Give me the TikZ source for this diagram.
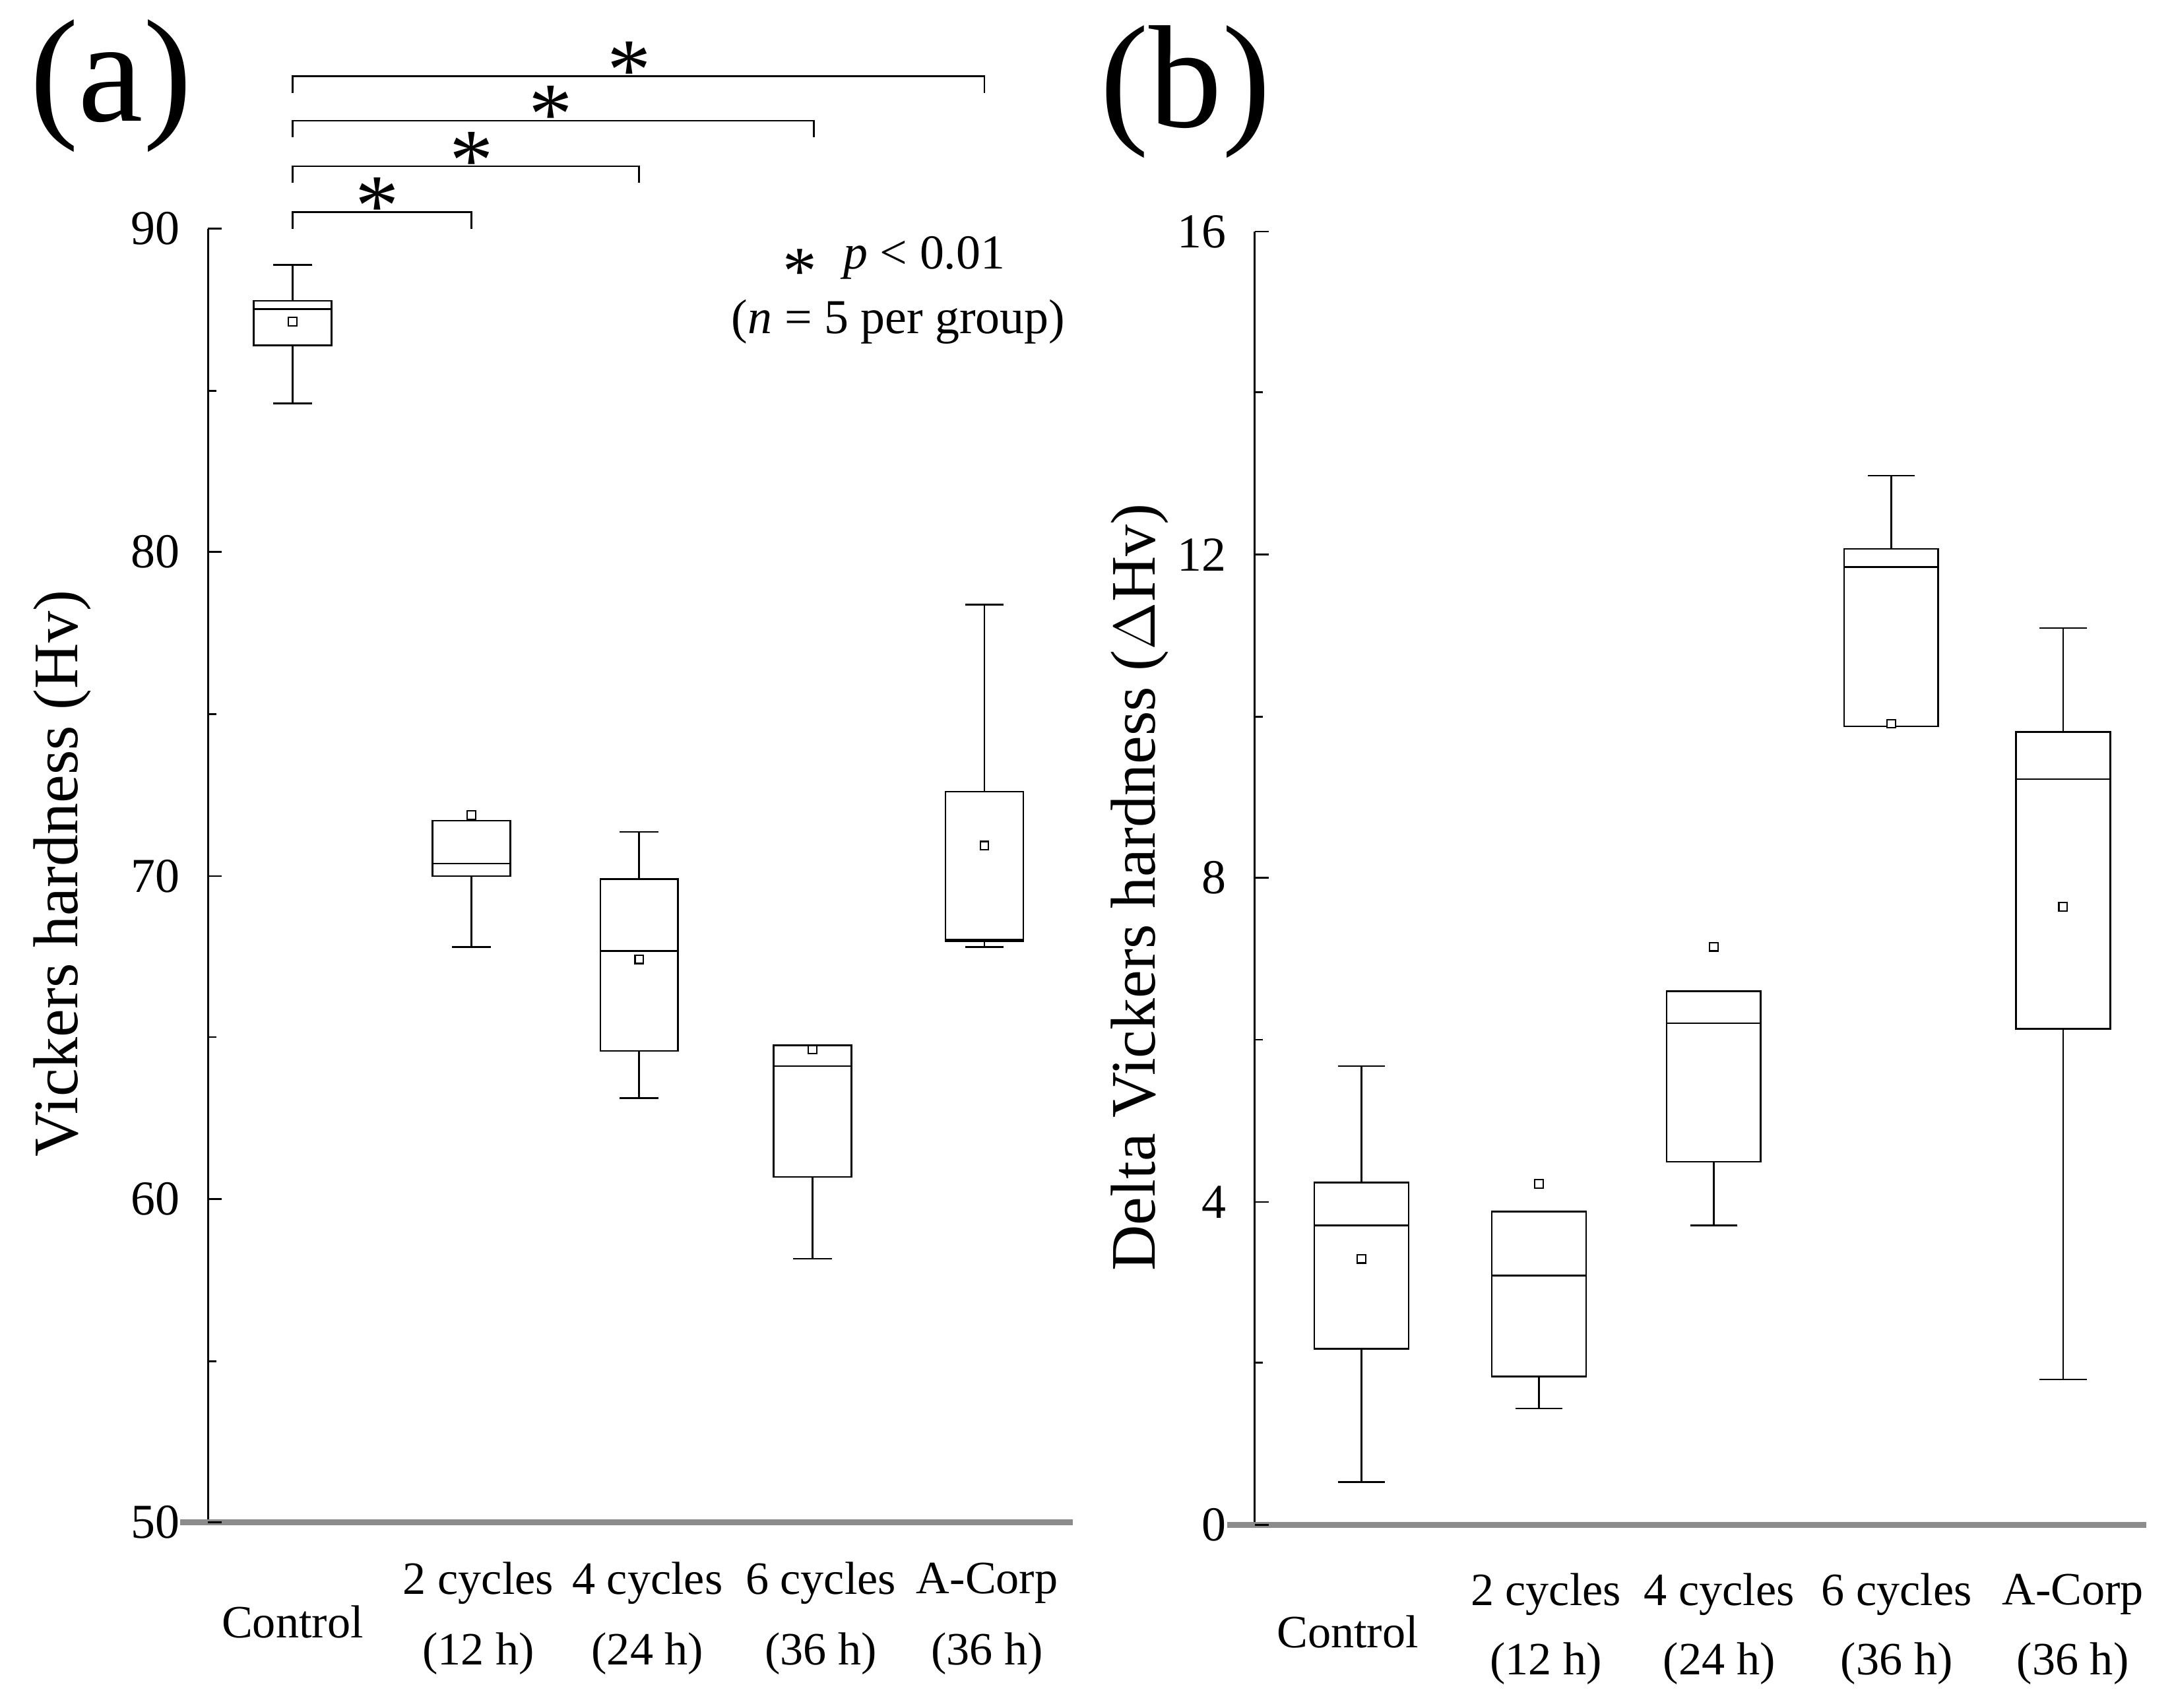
\documentclass[tikz,border=0pt]{standalone}
\usepackage{fontspec}
\setmainfont{Liberation Serif}
\begin{document}
\begin{tikzpicture}[x=0.01cm,y=-0.01cm,
 ln/.style={line width=0.35pt,black},
 bx/.style={ln},
 mn/.style={line width=0.3pt,draw=black,fill=white,minimum size=0.06cm,inner sep=0pt,rectangle},
 tick/.style={font=\fontsize{10}{12}\selectfont,anchor=east},
 xl/.style={font=\fontsize{9.5}{12}\selectfont},
 big/.style={font=\fontsize{30}{34}\selectfont},
 yl/.style={font=\fontsize{13}{15}\selectfont,rotate=90}]
\useasboundingbox (0,0) rectangle (1568,1232);
% ---- panel (a)
\node[big] (la) at (80,62) {(a)};
\draw[ln] (150,165) -- (150,1098);
\draw[line width=1.2pt,black!45] (130,1098) -- (774,1098);
\foreach \v/\y in {90/165,80/398,70/632,60/865,50/1098}{
 \draw[ln] (150,\y) -- (160,\y); \node[tick] at (142,\y) {\v};}
\foreach \y in {282,515,748,982}{\draw[ln] (150,\y) -- (156,\y);}
\node[yl] (ya) at (45,630) {Vickers hardness (Hv)};
\foreach \x/\wt/\bt/\md/\bb/\wb/\mn in {211/191/217/223/249/291/232,340/592/592/623/632/683/588,461/600/634/686/758/792/692,586/754/754/769/849/908/757,710/436/571/678/679/683/610}{
 \draw[bx] (\x-28,\bt) rectangle (\x+28,\bb);
 \draw[bx] (\x-28,\md) -- (\x+28,\md);
 \draw[bx] (\x,\wt) -- (\x,\bt) (\x,\bb) -- (\x,\wb);
 \draw[bx] (\x-14,\wt) -- (\x+14,\wt) (\x-14,\wb) -- (\x+14,\wb);
 \node[mn] at (\x,\mn) {};}
\foreach \xe/\y/\sx in {340/153/272,461/120/340,587/87/397,710/55/454}{
 \draw[ln] (211,\y+12) -- (211,\y) -- (\xe,\y) -- (\xe,\y+12);
 \node[font=\fontsize{18}{20}\selectfont] at (\sx,\y-4) {*};}
\node[font=\fontsize{14}{14}\selectfont] (st) at (577,196) {*};
\node[font=\fontsize{10}{12}\selectfont,anchor=west] (lg1) at (596,186) {\textit{p} < 0.01};
\node[font=\fontsize{10}{12}\selectfont] (lg2) at (648,232) {(\textit{n} = 5 per group)};
\node[xl] at (211,1170) {Control};
\foreach \x/\a/\b in {345/2 cycles/(12 h),467/4 cycles/(24 h),592/6 cycles/(36 h),712/A-Corp/(36 h)}{
 \node[xl] at (\x,1142) {\a}; \node[xl] at (\x,1193) {\b};}
% ---- panel (b)
\node[big] (lb) at (855,66) {(b)};
\draw[ln] (905,167) -- (905,1100);
\draw[line width=1.2pt,black!45] (885,1100) -- (1548,1100);
\foreach \v/\y in {16/167,12/400,8/633,4/867,0/1100}{
 \draw[ln] (905,\y) -- (915,\y); \node[tick] at (897,\y) {\v};}
\foreach \y in {283,517,750,983}{\draw[ln] (905,\y) -- (911,\y);}
\node[yl] (yb) at (822,640) {Delta Vickers hardness ($\Delta$Hv)};
\foreach \x/\wt/\bt/\md/\bb/\wb/\mn in {982/769/853/884/973/1069/908,1110/874/874/920/993/1016/854,1236/715/715/738/838/884/683,1364/343/396/409/524/524/522,1488/453/528/562/742/995/654}{
 \draw[bx] (\x-34,\bt) rectangle (\x+34,\bb);
 \draw[bx] (\x-34,\md) -- (\x+34,\md);
 \draw[bx] (\x,\wt) -- (\x,\bt) (\x,\bb) -- (\x,\wb);
 \draw[bx] (\x-17,\wt) -- (\x+17,\wt) (\x-17,\wb) -- (\x+17,\wb);
 \node[mn] at (\x,\mn) {};}
\node[xl] at (972,1177) {Control};
\foreach \x/\a/\b in {1115/2 cycles/(12 h),1240/4 cycles/(24 h),1368/6 cycles/(36 h),1495/A-Corp/(36 h)}{
 \node[xl] at (\x,1150) {\a}; \node[xl] at (\x,1200) {\b};}
\end{tikzpicture}
\end{document}
